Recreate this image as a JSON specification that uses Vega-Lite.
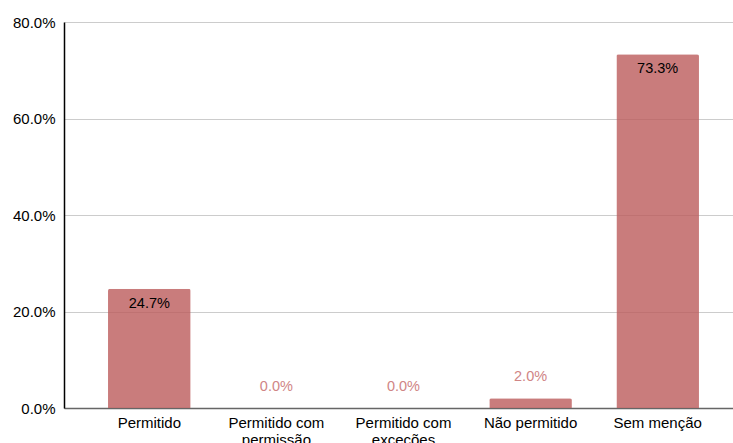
{
  "$schema": "https://vega.github.io/schema/vega-lite/v6.json",
  "width": 669,
  "height": 386,
  "autosize": {"type": "none"},
  "padding": {"left": 64, "top": 22, "right": 0, "bottom": 35},
  "background": "white",
  "config": {
    "view": {"stroke": null},
    "font": "Liberation Sans"
  },
  "data": {
    "values": [
      {"categoria": "Permitido", "valor": 0.247},
      {"categoria": "Permitido com permissão", "valor": 0.0},
      {"categoria": "Permitido com exceções", "valor": 0.0},
      {"categoria": "Não permitido", "valor": 0.02},
      {"categoria": "Sem menção", "valor": 0.733}
    ]
  },
  "encoding": {
    "x": {
      "field": "categoria",
      "type": "nominal",
      "sort": null,
      "scale": {"paddingInner": 0.35, "paddingOuter": 0.307, "align": 0.564},
      "axis": {
        "title": null,
        "labelAngle": 0,
        "labelFont": "Liberation Sans",
        "labelFontSize": 15,
        "labelColor": "#000000",
        "labelPadding": 7,
        "labelLineHeight": 17,
        "labelLimit": 0,
        "ticks": false,
        "domainColor": "#666666",
        "domainWidth": 1.5,
        "labelExpr": "datum.label == 'Permitido com permissão' ? ['Permitido com', 'permissão'] : datum.label == 'Permitido com exceções' ? ['Permitido com', 'exceções'] : datum.label"
      }
    },
    "y": {
      "field": "valor",
      "type": "quantitative",
      "scale": {"domain": [0, 0.8], "nice": false},
      "axis": {
        "title": null,
        "format": ".1%",
        "values": [0, 0.2, 0.4, 0.6, 0.8],
        "labelFont": "Liberation Sans",
        "labelFontSize": 15,
        "labelColor": "#000000",
        "labelPadding": 9,
        "ticks": false,
        "domainColor": "#000000",
        "domainWidth": 1.5,
        "gridColor": "#cccccc",
        "gridWidth": 1
      }
    }
  },
  "layer": [
    {
      "mark": {"type": "bar", "color": "#bb5b5b", "opacity": 0.8, "cornerRadiusTopLeft": 2, "cornerRadiusTopRight": 2}
    },
    {
      "transform": [{"filter": "datum.valor > 0.1"}],
      "mark": {"type": "text", "dy": 15, "fontSize": 14.5, "font": "Liberation Sans", "color": "#000000"},
      "encoding": {"text": {"field": "valor", "type": "quantitative", "format": ".1%"}}
    },
    {
      "transform": [{"filter": "datum.valor <= 0.1"}],
      "mark": {"type": "text", "dy": -21, "fontSize": 14.5, "font": "Liberation Sans", "color": "#d08585"},
      "encoding": {"text": {"field": "valor", "type": "quantitative", "format": ".1%"}}
    }
  ]
}
